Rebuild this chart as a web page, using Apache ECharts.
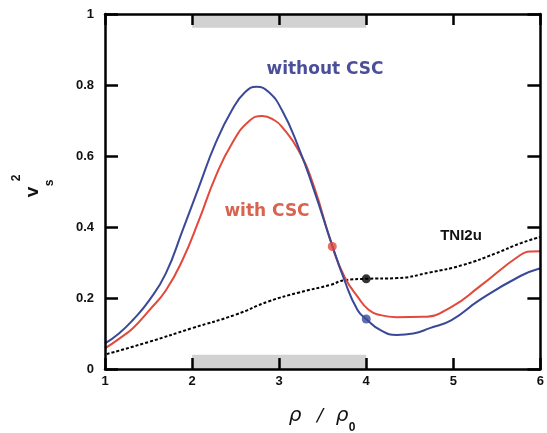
<!DOCTYPE html>
<html>
<head>
<meta charset="utf-8">
<script src="https://cdn.jsdelivr.net/npm/echarts@6/dist/echarts.min.js"></script>
<style>html,body{margin:0;padding:0;background:#fff}#c{width:547px;height:433px}</style>
</head>
<body>
<div id="c"></div>
<script>
// ---- data ----
var blueX = [1.0, 1.16, 1.32, 1.51, 1.70, 1.89, 2.08, 2.27, 2.46, 2.61, 2.74, 2.88, 3.03, 3.22, 3.40, 3.59, 3.75, 3.90, 4.0, 4.16, 4.35, 4.54, 4.73, 4.98, 5.30, 5.77, 6.0];
var blueY = [0.072, 0.10, 0.138, 0.194, 0.27, 0.39, 0.514, 0.636, 0.73, 0.78, 0.795, 0.78, 0.73, 0.626, 0.504, 0.363, 0.25, 0.166, 0.141, 0.11, 0.096, 0.10, 0.115, 0.138, 0.194, 0.262, 0.284];
var redX = [1.0, 1.16, 1.32, 1.51, 1.70, 1.89, 2.08, 2.27, 2.46, 2.65, 2.81, 2.95, 3.03, 3.22, 3.40, 3.61, 3.75, 3.90, 4.03, 4.16, 4.35, 4.65, 4.98, 5.30, 5.77, 5.9, 6.0];
var redY = [0.058, 0.085, 0.115, 0.166, 0.222, 0.307, 0.42, 0.542, 0.636, 0.697, 0.713, 0.70, 0.683, 0.617, 0.514, 0.345, 0.26, 0.204, 0.166, 0.152, 0.146, 0.147, 0.175, 0.232, 0.321, 0.331, 0.332];
var tniX = [1.02, 1.5, 2.0, 2.5, 2.875, 3.22, 3.59, 3.75, 4.0, 4.35, 4.73, 5.11, 5.49, 5.77, 6.0];
var tniY = [0.042, 0.076, 0.115, 0.153, 0.19, 0.215, 0.237, 0.25, 0.254, 0.256, 0.272, 0.293, 0.326, 0.354, 0.372];
var redDot = [3.61, 0.345];
var blueDot = [4.0, 0.141];
var blackDot = [4.0, 0.254];
var bandX = [2, 4];
var xTicks = {min: 1, max: 6, step: 1};
var yTicks = {min: 0, max: 1, step: 0.2};

function pairs(xs, ys) { return xs.map(function (x, i) { return [x, ys[i]]; }); }

var chart = echarts.init(document.getElementById('c'));
var tickFont = {fontFamily: 'Liberation Sans, Arial, sans-serif', fontWeight: 'bold', fontSize: 13, color: '#111'};
function axisCommon(extra) {
  return Object.assign({
    type: 'value', z: 5,
    axisLine: {show: true, onZero: false, lineStyle: {color: '#000', width: 2.5}},
    axisTick: {show: true, inside: true, lineStyle: {color: '#000', width: 2.5}},
    splitLine: {show: false}
  }, extra);
}
var lineCommon = {smooth: 0.5, showSymbol: false};
var option = {
  animation: false,
  backgroundColor: '#fff',
  grid: {left: 105, top: 14, width: 439, height: 355},
  xAxis: [
    axisCommon({min: xTicks.min, max: xTicks.max, interval: xTicks.step, position: 'bottom',
      axisTick: {show: true, inside: true, length: 11, lineStyle: {color: '#000', width: 2.5}},
      axisLabel: Object.assign({margin: 6}, tickFont)}),
    axisCommon({min: xTicks.min, max: xTicks.max, interval: xTicks.step, position: 'top',
      axisTick: {show: true, inside: true, length: 11, lineStyle: {color: '#000', width: 2.5}},
      axisLabel: {show: false}})
  ],
  yAxis: [
    axisCommon({min: yTicks.min, max: yTicks.max, interval: yTicks.step, position: 'left',
      axisTick: {show: true, inside: true, length: 13, lineStyle: {color: '#000', width: 2.5}},
      axisLabel: Object.assign({margin: 11}, tickFont)}),
    axisCommon({min: yTicks.min, max: yTicks.max, interval: yTicks.step, position: 'right',
      axisTick: {show: true, inside: true, length: 13, lineStyle: {color: '#000', width: 2.5}},
      axisLabel: {show: false}})
  ],
  series: [
    {
      name: 'bands', type: 'line', data: [], silent: true,
      markArea: {silent: true, itemStyle: {color: '#d2d2d2'},
        data: [
          [{xAxis: bandX[0], yAxis: 0.961}, {xAxis: bandX[1], yAxis: 1}],
          [{xAxis: bandX[0], yAxis: 0}, {xAxis: bandX[1], yAxis: 0.04}]
        ]}
    },
    Object.assign({name: 'TNI2u', type: 'line', data: pairs(tniX, tniY),
      lineStyle: {color: '#000', width: 2, type: [3, 2]}}, lineCommon),
    Object.assign({name: 'with CSC', type: 'line', data: pairs(redX, redY),
      lineStyle: {color: '#e2493b', width: 2}}, lineCommon),
    Object.assign({name: 'without CSC', type: 'line', data: pairs(blueX, blueY),
      lineStyle: {color: '#3a4898', width: 2}}, lineCommon),
    {type: 'scatter', data: [redDot], symbolSize: 9, itemStyle: {color: '#e2493b'}, z: 4},
    {type: 'scatter', data: [blueDot], symbolSize: 9, itemStyle: {color: '#3a4898'}, z: 4},
    {type: 'scatter', data: [blackDot], symbolSize: 9, itemStyle: {color: '#000'}, z: 4}
  ],
  graphic: [
    {type: 'text', x: 325, y: 70, style: {text: 'without CSC', fill: '#4b4f99', font: '600 17px "DejaVu Sans", sans-serif', textAlign: 'center', textVerticalAlign: 'middle'}},
    {type: 'text', x: 267, y: 212, style: {text: 'with CSC', fill: '#d8634f', font: '600 17px "DejaVu Sans", sans-serif', textAlign: 'center', textVerticalAlign: 'middle'}},
    {type: 'text', x: 461, y: 236, style: {text: 'TNI2u', fill: '#111', font: 'bold 15px "Liberation Sans", Arial, sans-serif', textAlign: 'center', textVerticalAlign: 'middle'}},
    {type: 'text', x: 295, y: 416, style: {text: 'ρ', fill: '#111', font: 'italic 20px "DejaVu Sans", sans-serif', textAlign: 'center', textVerticalAlign: 'middle'}},
    {type: 'text', x: 320, y: 416, style: {text: '/', fill: '#111', font: 'italic 18px "DejaVu Sans", sans-serif', textAlign: 'center', textVerticalAlign: 'middle'}},
    {type: 'text', x: 342, y: 416, style: {text: 'ρ', fill: '#111', font: 'italic 20px "DejaVu Sans", sans-serif', textAlign: 'center', textVerticalAlign: 'middle'}},
    {type: 'text', x: 352, y: 428, style: {text: '0', fill: '#111', font: 'bold 12px "Liberation Sans", Arial, sans-serif', textAlign: 'center', textVerticalAlign: 'middle'}},
    {type: 'text', x: 33, y: 192, rotation: Math.PI / 2, style: {text: 'v', fill: '#111', font: 'bold 19px "Liberation Sans", Arial, sans-serif', textAlign: 'center', textVerticalAlign: 'middle'}},
    {type: 'text', x: 17, y: 178, rotation: Math.PI / 2, style: {text: '2', fill: '#111', font: 'bold 12px "Liberation Sans", Arial, sans-serif', textAlign: 'center', textVerticalAlign: 'middle'}},
    {type: 'text', x: 50, y: 183, rotation: Math.PI / 2, style: {text: 's', fill: '#111', font: 'bold 12px "Liberation Sans", Arial, sans-serif', textAlign: 'center', textVerticalAlign: 'middle'}}
  ]
};
chart.setOption(option);
</script>
</body>
</html>
